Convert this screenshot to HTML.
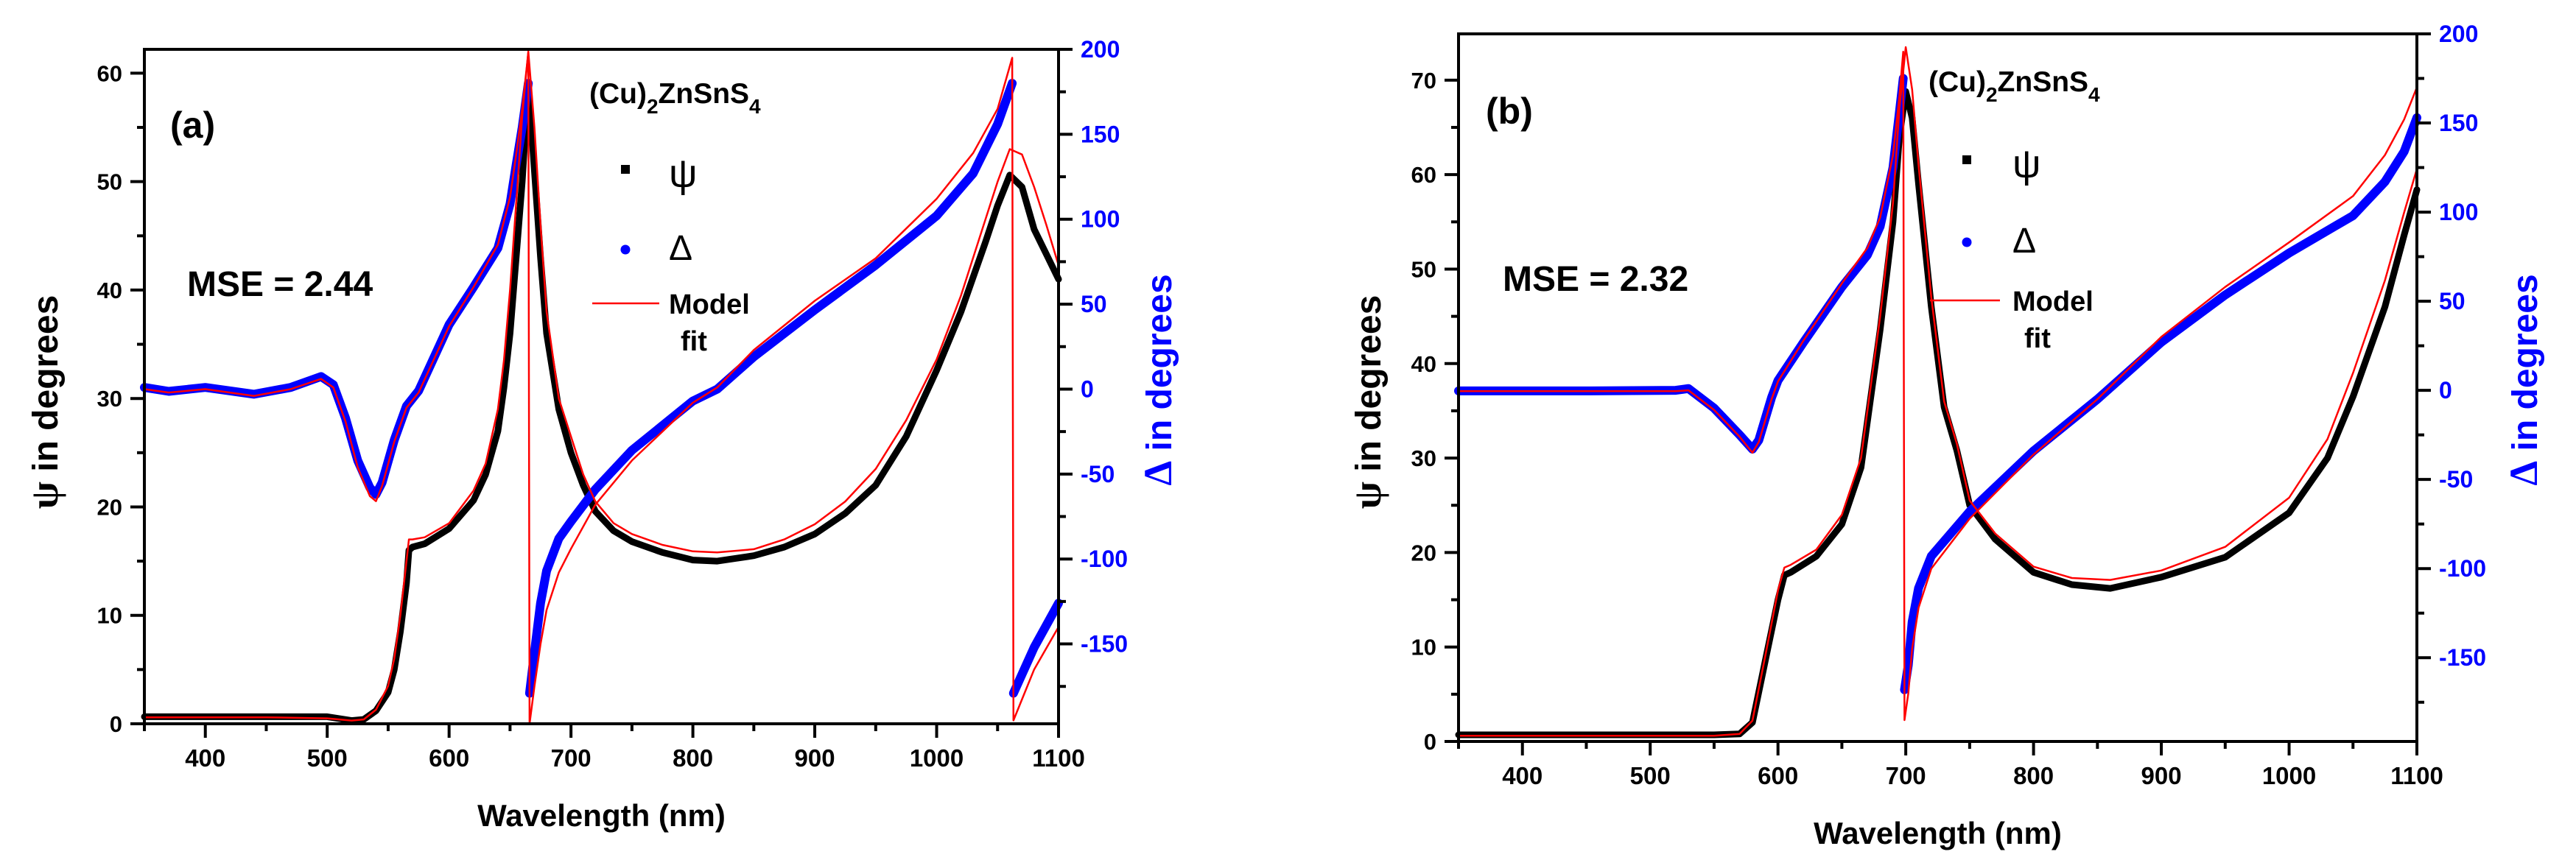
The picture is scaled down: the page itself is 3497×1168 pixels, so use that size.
<!DOCTYPE html>
<html><head><meta charset="utf-8"><style>
html,body{margin:0;padding:0;background:#fff;}
svg{display:block;}
text{font-family:"Liberation Sans",Arial,sans-serif;}
</style></head><body>
<svg id="fig" width="3497" height="1168" viewBox="0 0 3497 1168" xmlns="http://www.w3.org/2000/svg"></svg>
<script>
// ---------- Panel (a) data ----------
const aPsiX=[350,400,450,500,520,530,540,550,555,560,565,567,570,580,600,620,630,640,645,650,655,660,665,670,675,680,690,700,710,720,735,750,775,800,820,850,875,900,925,950,975,1000,1020,1040,1050,1060,1070,1080,1090,1100];
const aPsiY=[0.65,0.65,0.65,0.65,0.3,0.4,1.2,2.9,5,8.5,13,16,16.3,16.6,18,20.6,23,27,31,36,43,50,59,51,43,36,29,25,22,19.6,17.8,16.8,15.8,15.1,15,15.5,16.3,17.5,19.4,22,26.5,32.6,38,44.4,47.8,50.6,49.5,45.6,43.3,41];
const aPsiFit=[0.6,0.6,0.6,0.5,0.3,0.4,1.3,3.5,6,10,15,17,17,17.2,18.5,21.5,24,29,33.5,40,48,56,62,55,46,38,30,26.5,23,20.5,18.5,17.5,16.5,15.9,15.8,16.1,17,18.4,20.5,23.5,28,33.6,39.5,46.5,50,53,52.5,49.5,46,42.3];
const aDelX=[350,370,400,440,470,495,505,515,525,535,540,545,555,565,575,600,620,640,650,655,660,665,666,670,675,680,690,700,720,750,800,820,850,900,950,1000,1030,1050,1062,1063,1080,1100];
const aDelY=[1,-1.3,1,-3,1,7.4,2.6,-17,-42,-58,-62,-55,-30,-10,-1,38,60,83,109,132,154,180,-179,-155,-126,-107,-88,-78,-59,-36,-7,0,19,46.6,73,102,127,156,180,-179,-152,-126];
const aDelFit=[0,-2,0,-4,0,6,1,-19,-46,-63,-66,-57,-31,-11,-2,37,60,85,113,138,165,198,-197,-175,-150,-130,-108,-94,-68,-42,-8,1,23,52,77,112,139,165,195,-195,-165,-140];
// ---------- Panel (b) data ----------
const bPsiX=[350,450,550,570,580,590,600,605,610,630,650,665,680,690,695,700,705,710,720,730,740,750,770,800,830,860,900,950,1000,1030,1050,1075,1090,1100];
const bPsiY=[0.7,0.7,0.7,0.8,2,8.5,15,17.6,17.9,19.6,23,29,43.6,55,64,68.8,66,59,46,35.4,30.8,25,21.4,17.9,16.6,16.2,17.4,19.5,24.2,30,36.5,46,53.6,58.4];
const bPsiFit=[0.6,0.6,0.6,0.8,2.2,9,16,18.4,18.7,20.3,24,30,45,57,67,73.5,69,61,47,36,31.5,25.5,22,18.5,17.3,17.1,18.1,20.6,25.8,32,39,48.8,56,60.6];
const bDelX=[350,450,520,530,550,570,580,585,595,600,620,650,670,680,690,695,698,699,702,705,710,720,750,800,850,900,950,1000,1050,1075,1090,1100];
const bDelY=[-0.3,-0.3,0,1,-10,-25,-33,-28,-4,5.5,27,58,76,92,125,156,175,-168,-154,-130,-111,-93,-68,-34,-5,27,53.5,77,98,117,134,153];
const bDelFit=[-0.5,-0.5,-0.5,0,-11,-26,-35,-29,-5,5,28,60,80,97,132,165,190,-185,-170,-145,-122,-100,-72,-36,-5,30,58,83,109,132,152,170];
// ---------- ticks ----------
const xTicks=[400,500,600,700,800,900,1000,1100];
const aPsiTicks=[0,10,20,30,40,50,60];
const bPsiTicks=[0,10,20,30,40,50,60,70];
const delTicks=[-150,-100,-50,0,50,100,150,200];

const NS='http://www.w3.org/2000/svg';
const svg=document.getElementById('fig');
function mk(tag,attrs,parent){const e=document.createElementNS(NS,tag);for(const k in attrs)e.setAttribute(k,attrs[k]);(parent||svg).appendChild(e);return e;}

function panel(P){
  const g=mk('g',{});
  
  
  const X=v=>P.L+(v-350)*(P.R-P.L)/750;
  const Yp=v=>P.B-(v-0)*(P.B-P.T)/P.psiMax;
  const Yd=v=>P.B-(v-(-197))*(P.B-P.T)/(200-(-197));
  function line(xs,ys,Y,stroke,w,name,breakJumps){
    let d='';
    for(let i=0;i<xs.length;i++){
      const cmd=(i===0||(breakJumps&&Math.abs(ys[i]-ys[i-1])>150))?'M':'L';
      d+=cmd+X(xs[i]).toFixed(1)+','+Y(ys[i]).toFixed(1)+' ';
    }
    const p=mk('path',{d:d,fill:'none',stroke:stroke,'stroke-width':w,'stroke-linejoin':'round','stroke-linecap':'round'},g);
    
    
    return p;
  }
  line(P.psiX,P.psiY,Yp,'#000',9,'psi-data-series',false);
  line(P.delX,P.delY,Yd,'#0000ff',12,'delta-data-series',true);
  line(P.psiX,P.psiFit,Yp,'#ff0000',2.5,'psi-model-fit',false);
  line(P.delX,P.delFit,Yd,'#ff0000',2.5,'delta-model-fit',false);
  const fr=mk('rect',{x:P.L,y:P.T,width:P.R-P.L,height:P.B-P.T,fill:'none',stroke:'#000','stroke-width':4},g);
  
  
  for(let v=350;v<=1100;v+=50){
    const maj=v%100===0;
    mk('line',{x1:X(v),x2:X(v),y1:P.B,y2:P.B+(maj?19:10),stroke:'#000','stroke-width':4},g);
  }
  xTicks.forEach(v=>{
    const t=mk('text',{x:X(v),y:P.B+58,'text-anchor':'middle','font-size':33,'font-weight':'bold'},g);
    t.textContent=v;
    
    
  });
  for(let v=0;v<=P.psiMax;v+=5){
    const maj=v%10===0;
    mk('line',{x1:P.L,x2:P.L-(maj?19:10),y1:Yp(v),y2:Yp(v),stroke:'#000','stroke-width':4},g);
  }
  P.psiTicks.forEach(v=>{
    const t=mk('text',{x:P.L-30,y:Yp(v)+11,'text-anchor':'end','font-size':31,'font-weight':'bold'},g);
    t.textContent=v;
    
    
  });
  for(let v=-175;v<=200;v+=25){
    const maj=v%50===0;
    mk('line',{x1:P.R,x2:P.R+(maj?19:10),y1:Yd(v),y2:Yd(v),stroke:'#000','stroke-width':4},g);
  }
  delTicks.forEach(v=>{
    const t=mk('text',{x:P.R+30,y:Yd(v)+11,'text-anchor':'start','font-size':32,'font-weight':'bold',fill:'#0000ff'},g);
    t.textContent=v;
    
    
  });
  const xt=mk('text',{x:(P.L+P.R)/2,y:P.xTitleY,'text-anchor':'middle','font-size':42,'font-weight':'bold'},g);
  xt.textContent='Wavelength (nm)';
  
  
  const yt=mk('text',{x:0,y:0,'text-anchor':'middle','font-size':48,'font-weight':'bold',transform:'translate('+(P.yTitleX)+','+P.yTitleCY+') rotate(-90)'},g);
  yt.innerHTML='<tspan font-family="Liberation Serif,serif" font-weight="bold" font-size="54">ψ</tspan> in degrees';
  
  
  const rt=mk('text',{x:0,y:0,'text-anchor':'middle','font-size':48,'font-weight':'bold',fill:'#0000ff',transform:'translate('+(P.rTitleX)+','+P.rTitleCY+') rotate(-90)'},g);
  rt.innerHTML='<tspan font-family="Liberation Serif,serif" font-weight="bold" font-size="54">Δ</tspan> in degrees';
  
  
  const lab=mk('text',{x:P.labX,y:P.labY,'font-size':50,'font-weight':'bold'},g);
  lab.textContent='('+P.id+')';
  
  
  const mse=mk('text',{x:P.mseX,y:P.mseY,'font-size':48,'font-weight':'bold'},g);
  mse.textContent='MSE = '+P.mse;
  
  
  const f=mk('text',{x:P.fX,y:P.fY,'font-size':39,'font-weight':'bold'},g);
  f.innerHTML='(Cu)<tspan font-size="28" dy="14">2</tspan><tspan dy="-14">ZnSnS</tspan><tspan font-size="28" dy="14">4</tspan>';
  
  
  const lg=mk('g',{},g);
  
  
  const sq=mk('rect',{x:P.mX-6,y:P.psiLY-6,width:12,height:12,fill:'#000'},lg);
  
  
  const pt=mk('text',{x:P.tX,y:P.psiLY+24,'font-size':54,'font-family':'Liberation Serif,serif'},lg);
  pt.textContent='ψ';
  
  
  const dc=mk('circle',{cx:P.mX,cy:P.delLY,r:6.5,fill:'#0000ff'},lg);
  
  
  const dt=mk('text',{x:P.tX,y:P.delLY+14,'font-size':48,'font-family':'Liberation Serif,serif'},lg);
  dt.textContent='Δ';
  
  
  const ml=mk('line',{x1:P.lX1,x2:P.lX2,y1:P.modY,y2:P.modY,stroke:'#ff0000','stroke-width':2.5},lg);
  
  
  const mt=mk('text',{x:P.tX,y:P.modY+14,'font-size':38,'font-weight':'bold'},lg);
  mt.textContent='Model';
  
  
  const ft=mk('text',{x:P.tX+16,y:P.modY+64,'font-size':38,'font-weight':'bold'},lg);
  ft.textContent='fit';
  
  
}

panel({id:'a',L:196,R:1437,T:67,B:983,psiMax:62.2,psiX:aPsiX,psiY:aPsiY,psiFit:aPsiFit,delX:aDelX,delY:aDelY,delFit:aDelFit,psiTicks:aPsiTicks,
  xTitleY:1122,yTitleX:78,yTitleCY:546,rTitleX:1590,rTitleCY:516,labX:231,labY:187,mse:'2.44',mseX:254,mseY:402,fX:800,fY:140,
  mX:849,tX:908,psiLY:230,delLY:339,modY:412,lX1:804,lX2:895});
panel({id:'b',L:1980,R:3281,T:46,B:1007,psiMax:74.9,psiX:bPsiX,psiY:bPsiY,psiFit:bPsiFit,delX:bDelX,delY:bDelY,delFit:bDelFit,psiTicks:bPsiTicks,
  xTitleY:1146,yTitleX:1874,yTitleCY:546,rTitleX:3444,rTitleCY:516,labX:2017,labY:168,mse:'2.32',mseX:2040,mseY:395,fX:2618,fY:124,
  mX:2670,tX:2732,psiLY:217,delLY:329,modY:408,lX1:2620,lX2:2715});
</script>
</body></html>
